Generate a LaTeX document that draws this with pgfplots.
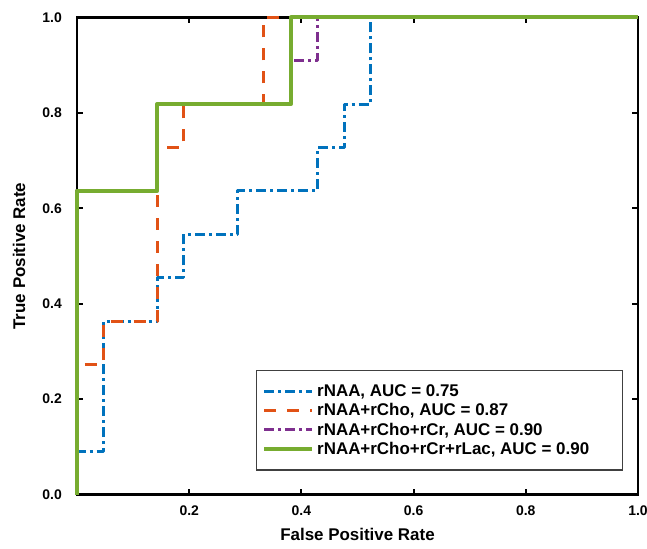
\documentclass[border=0pt]{standalone}
\usepackage{pgfplots}
\pgfplotsset{compat=1.18}
\usepackage{fontspec}
\setmainfont{Liberation Sans}
\definecolor{rocBlue}{RGB}{0,114,189}
\definecolor{rocRed}{RGB}{225,82,22}
\definecolor{rocPurple}{RGB}{126,47,142}
\definecolor{rocGreen}{RGB}{119,172,48}
\begin{document}
\begin{tikzpicture}
\path[use as bounding box] (-77bp,-54.5bp) rectangle (570bp,494.5bp);
\begin{axis}[
    at={(0,0)}, anchor=south west, scale only axis,
    width=561bp, height=477bp,
    xmin=0, xmax=1, ymin=0, ymax=1,
    xtick={0.2,0.4,0.6,0.8,1.0},
    ytick={0,0.2,0.4,0.6,0.8,1.0},
    tick align=inside, major tick length=6bp,
    axis line style={line width=2.6bp},
    tick style={line width=2bp, black},
    ticklabel style={font=\fontsize{14}{16}\selectfont\bfseries},
    xticklabel style={anchor=center, yshift=-16bp},
    yticklabel style={anchor=east, inner sep=0pt, xshift=-15bp},
    xlabel={False Positive Rate}, ylabel={True Positive Rate},
    label style={font=\fontsize{17}{20}\selectfont\bfseries},
    xlabel style={at={(axis description cs:0.5,-0.083)}, anchor=center},
    ylabel style={at={(axis description cs:-0.1034,0.5)}, anchor=center},
    clip=false,
    legend cell align=left,
    legend image code/.code={\draw[#1] (0bp,0bp) -- (48bp,0bp);},
    legend style={at={(0.973,0.0503)}, anchor=south east,
        draw=black!75, line width=1.3bp, fill=white,
        font=\fontsize{17}{20}\selectfont\bfseries,
        inner xsep=6bp, inner ysep=12bp, row sep=1.5bp},
    /pgf/number format/fixed, /pgf/number format/fixed zerofill,
    /pgf/number format/precision=1, /pgf/number format/assume math mode=true,
]
% rNAA
\addplot[rocBlue, line width=3bp, line join=round,
    dash pattern=on 10bp off 4bp on 3bp off 4bp] coordinates {
    (0,0) (0,0.0909) (0.0476,0.0909) (0.0476,0.3636) (0.1429,0.3636)
    (0.1429,0.4545) (0.1905,0.4545) (0.1905,0.5455) (0.2857,0.5455)
    (0.2857,0.6364) (0.4286,0.6364) (0.4286,0.7273) (0.4762,0.7273)
    (0.4762,0.8182) (0.5238,0.8182) (0.5238,1) (1,1)
};
\addlegendentry{\makebox[298bp][l]{\hspace{1bp}rNAA, AUC = 0.75}}
% rNAA+rCho
\addplot[rocRed, line width=3bp, line join=round,
    dash pattern=on 12bp off 11bp] coordinates {
    (0,0) (0,0.2727) (0.0476,0.2727) (0.0476,0.3636) (0.1429,0.3636)
    (0.1429,0.7273) (0.1905,0.7273) (0.1905,0.8182) (0.3333,0.8182)
    (0.3333,1) (1,1)
};
\addlegendentry{\hspace{1bp}rNAA+rCho, AUC = 0.87}
% rNAA+rCho+rCr
\addplot[rocPurple, line width=3bp, line join=round,
    dash pattern=on 10bp off 4bp on 3bp off 4bp] coordinates {
    (0,0) (0,0.6364) (0.1429,0.6364) (0.1429,0.8182) (0.381,0.8182)
    (0.381,0.9091) (0.4286,0.9091) (0.4286,1) (1,1)
};
\addlegendentry{\hspace{1bp}rNAA+rCho+rCr, AUC = 0.90}
% rNAA+rCho+rCr+rLac
\addplot[rocGreen, line width=4bp, line join=round] coordinates {
    (0,0) (0,0.6364) (0.1429,0.6364) (0.1429,0.8182) (0.381,0.8182)
    (0.381,1) (1,1)
};
\addlegendentry{\hspace{1bp}rNAA+rCho+rCr+rLac, AUC = 0.90}
\end{axis}
\end{tikzpicture}
\end{document}
